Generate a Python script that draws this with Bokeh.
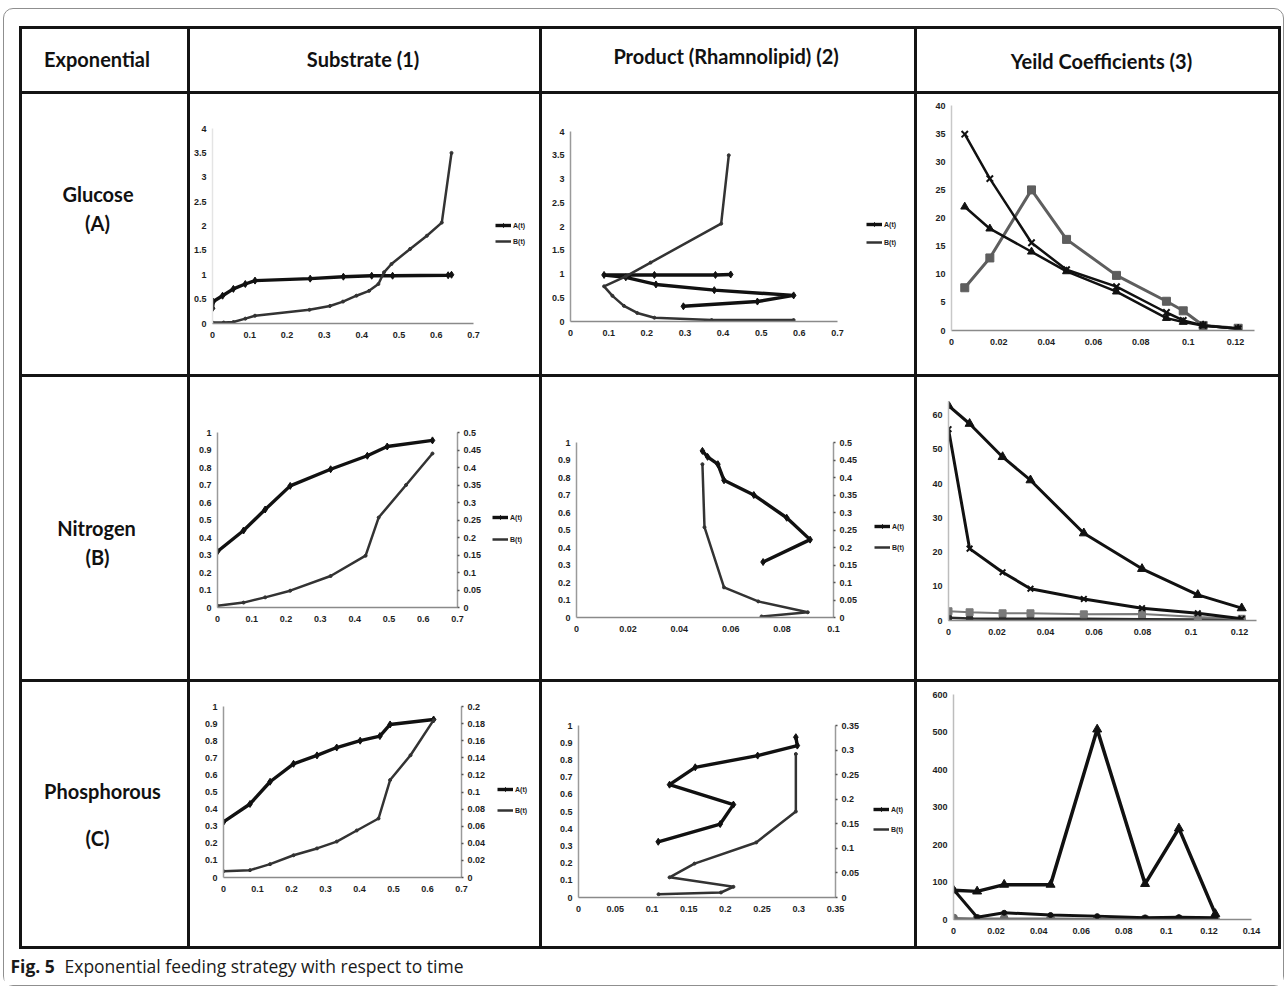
from bokeh.plotting import figure
from bokeh.layouts import row, column
from bokeh.models import (Range1d, LinearAxis, Legend, LegendItem, FixedTicker,
                          Spacer, CustomJSTickFormatter)
from bokeh.embed import file_html
from bokeh.resources import INLINE
from bokeh.core.properties import value

# ---------------- texts ----------------
header_labels = ["Exponential", "Substrate  (1)", "Product (Rhamnolipid)  (2)", "Yeild Coefficients (3)"]
row_names = ["Glucose", "Nitrogen", "Phosphorous"]
row_codes = ["(A)", "(B)", "(C)"]
legend_labels = ["A(t)", "B(t)"]
caption_bold = "Fig. 5"
caption_text = "Exponential feeding strategy with respect to time"

# ---------------- tick values ----------------
t_x07 = [0, 0.1, 0.2, 0.3, 0.4, 0.5, 0.6, 0.7]
t_y4 = [0, 0.5, 1, 1.5, 2, 2.5, 3, 3.5, 4]
t_x012 = [0, 0.02, 0.04, 0.06, 0.08, 0.1, 0.12]
t_y40 = [0, 5, 10, 15, 20, 25, 30, 35, 40]
t_y1 = [0, 0.1, 0.2, 0.3, 0.4, 0.5, 0.6, 0.7, 0.8, 0.9, 1]
t_r05 = [0, 0.05, 0.1, 0.15, 0.2, 0.25, 0.3, 0.35, 0.4, 0.45, 0.5]
t_x01 = [0, 0.02, 0.04, 0.06, 0.08, 0.1]
t_y60 = [0, 10, 20, 30, 40, 50, 60]
t_r02 = [0, 0.02, 0.04, 0.06, 0.08, 0.1, 0.12, 0.14, 0.16, 0.18, 0.2]
t_x035 = [0, 0.05, 0.1, 0.15, 0.2, 0.25, 0.3, 0.35]
t_r035 = [0, 0.05, 0.1, 0.15, 0.2, 0.25, 0.3, 0.35]
t_y600 = [0, 100, 200, 300, 400, 500, 600]
t_x014 = [0, 0.02, 0.04, 0.06, 0.08, 0.1, 0.12, 0.14]

# ---------------- data: Substrate / Glucose (1A) ----------------
sg_A_x = [0.0, 0.002, 0.027, 0.056, 0.088, 0.114, 0.262, 0.351, 0.427, 0.483, 0.632, 0.641]
sg_A_y = [0.31, 0.45, 0.57, 0.71, 0.81, 0.88, 0.92, 0.96, 0.98, 0.98, 0.99, 1.0]
sg_B_x = [0.0, 0.03, 0.056, 0.088, 0.114, 0.26, 0.315, 0.35, 0.386, 0.42, 0.445, 0.46, 0.48, 0.53, 0.575, 0.615, 0.641]
sg_B_y = [0.02, 0.02, 0.03, 0.1, 0.16, 0.28, 0.36, 0.45, 0.57, 0.67, 0.81, 1.05, 1.22, 1.53, 1.8, 2.07, 3.5]

# ---------------- data: Product / Glucose (2A) ----------------
pg_A_x = [0.296, 0.49, 0.585, 0.377, 0.224, 0.145, 0.088, 0.22, 0.38, 0.42]
pg_A_y = [0.32, 0.42, 0.55, 0.66, 0.78, 0.93, 0.98, 0.98, 0.98, 0.99]
pg_B_x = [0.585, 0.37, 0.22, 0.175, 0.14, 0.11, 0.088, 0.145, 0.21, 0.395, 0.415]
pg_B_y = [0.03, 0.03, 0.08, 0.18, 0.33, 0.54, 0.74, 0.95, 1.24, 2.06, 3.5]

# ---------------- data: Yield / Glucose (3A) ----------------
yg_x = [0.0056, 0.0162, 0.0338, 0.0486, 0.0697, 0.0908, 0.0979, 0.1063, 0.1211]
yg_cross = [34.9, 27.0, 15.6, 10.8, 7.8, 3.2, 1.8, 0.9, 0.3]
yg_tri = [22.0, 18.1, 14.0, 10.5, 6.9, 2.2, 1.5, 0.9, 0.3]
yg_sq = [7.6, 12.9, 25.0, 16.2, 9.8, 5.2, 3.5, 0.9, 0.4]

# ---------------- data: Substrate / Nitrogen (1B) ----------------
sn_A_x = [0.0, 0.076, 0.139, 0.212, 0.33, 0.437, 0.495, 0.627]
sn_A_y = [0.32, 0.44, 0.56, 0.695, 0.79, 0.867, 0.92, 0.955]
sn_B_x = [0.0, 0.076, 0.139, 0.212, 0.33, 0.432, 0.47, 0.55, 0.627]
sn_B_y = [0.005, 0.014, 0.029, 0.048, 0.09, 0.148, 0.257, 0.35, 0.44]

# ---------------- data: Product / Nitrogen (2B) ----------------
pn_A_x = [0.049, 0.051, 0.055, 0.0574, 0.069, 0.0818, 0.0909, 0.0726]
pn_A_y = [0.952, 0.918, 0.876, 0.784, 0.70, 0.57, 0.445, 0.317]
pn_B_x = [0.049, 0.0498, 0.0574, 0.0707, 0.09, 0.072]
pn_B_y = [0.438, 0.258, 0.086, 0.046, 0.015, 0.003]

# ---------------- data: Yield / Nitrogen (3B) ----------------
yn_x = [0.0, 0.0087, 0.0223, 0.0338, 0.0558, 0.0798, 0.1028, 0.1209]
yn_tri = [62.8, 57.5, 47.8, 41.0, 25.5, 15.1, 7.5, 3.6]
yn_cross = [55.9, 21.0, 14.1, 9.3, 6.3, 3.6, 2.1, 0.5]
yn_sq = [2.7, 2.4, 2.1, 2.1, 1.8, 1.9, 1.0, 0.5]
yn_circ = [0.8, 0.6, 0.5, 0.5, 0.5, 0.4, 0.3, 0.3]

# ---------------- data: Substrate / Phosphorous (1C) ----------------
sp_A_x = [0.0, 0.078, 0.137, 0.206, 0.275, 0.333, 0.402, 0.46, 0.49, 0.618]
sp_A_y = [0.325, 0.43, 0.56, 0.665, 0.714, 0.76, 0.80, 0.827, 0.895, 0.924]
sp_B_x = [0.0, 0.078, 0.137, 0.206, 0.275, 0.333, 0.392, 0.456, 0.49, 0.55, 0.618]
sp_B_y = [0.0074, 0.0086, 0.0156, 0.026, 0.034, 0.042, 0.055, 0.069, 0.114, 0.143, 0.184]

# ---------------- data: Product / Phosphorous (2C) ----------------
pp_A_x = [0.1086, 0.193, 0.211, 0.124, 0.159, 0.244, 0.298, 0.296]
pp_A_y = [0.324, 0.427, 0.54, 0.656, 0.757, 0.825, 0.883, 0.932]
pp_B_x = [0.109, 0.194, 0.211, 0.124, 0.158, 0.242, 0.296, 0.296]
pp_B_y = [0.0067, 0.0102, 0.0217, 0.041, 0.069, 0.112, 0.175, 0.292]

# ---------------- data: Yield / Phosphorous (3C) ----------------
yp_x = [0.0, 0.0111, 0.0238, 0.0456, 0.0675, 0.09, 0.1059, 0.123]
yp_tri = [78, 75, 93, 93, 507, 95, 243, 15]
yp_line2 = [80, 6, 18, 12, 9, 4.5, 6, 4.5]
yp_circ = [4, 3, 2.5, 2.5, 2, 2, 2, 2]

# ================= helpers =================
LINE = "#141414"
FMT_CODE = "return String(parseFloat(tick.toFixed(4)));"
TICK_FONT = "Liberation Sans"
HEAD_FONT = "Lato"
A_COLOR = "#111111"
B_COLOR = "#333333"
A_W = 3.4
B_W = 2.5


def style_axis(ax, line_color, ticks, tick_out=0, standoff=6):
    ax.ticker = FixedTicker(ticks=ticks)
    ax.formatter = CustomJSTickFormatter(code=FMT_CODE)
    ax.axis_line_color = line_color
    ax.axis_line_width = 1.5
    ax.major_tick_line_color = "#555555" if tick_out else None
    ax.major_tick_line_width = 1.5
    ax.major_tick_out = tick_out
    ax.major_tick_in = 0
    ax.minor_tick_line_color = None
    ax.major_label_text_font = TICK_FONT
    ax.major_label_text_font_size = "9px"
    ax.major_label_text_font_style = "bold"
    ax.major_label_text_color = "#1e1e1e"
    ax.major_label_standoff = standoff


def chart(w, h, left, top, fw, fh, xr, yr, xt, yt, yline="#9a9a9a", right=None):
    p = figure(width=w, height=h, x_range=Range1d(*xr), y_range=Range1d(*yr),
               toolbar_location=None, output_backend="svg",
               min_border_left=left, min_border_top=top,
               min_border_right=w - left - fw, min_border_bottom=h - top - fh)
    p.outline_line_color = None
    p.xgrid.visible = False
    p.ygrid.visible = False
    style_axis(p.xaxis[0], "#8a8a8a", xt, standoff=8)
    style_axis(p.yaxis[0], yline, yt, standoff=6)
    if right is not None:
        rr, rt = right
        p.extra_y_ranges = {"r": Range1d(*rr)}
        ax = LinearAxis(y_range_name="r")
        style_axis(ax, "#9a9a9a", rt, tick_out=2, standoff=4)
        p.add_layout(ax, "right")
    return p


def draw_AB(p, ax_, ay_, bx_, by_, b_right):
    p.line(ax_, ay_, line_width=A_W, color=A_COLOR)
    p.scatter(ax_, ay_, marker="diamond", size=7, color=A_COLOR)
    kw = {"y_range_name": "r"} if b_right else {}
    p.line(bx_, by_, line_width=B_W, color=B_COLOR, **kw)
    p.scatter(bx_, by_, size=3, color=B_COLOR, **kw)


def legend_fig(w, h, dx, dy, sp, ax_, ay_, bx_, by_):
    """Small canvas beside the chart that carries the A(t)/B(t) key.
    Its renderers hold the series but its view window lies away from them,
    so only the key is seen."""
    q = figure(width=w, height=h, x_range=Range1d(10, 11), y_range=Range1d(10, 11),
               toolbar_location=None, output_backend="svg", min_border=0,
               x_axis_type=None, y_axis_type=None)
    q.outline_line_color = None
    la = q.line(ax_, ay_, line_width=A_W, color=A_COLOR)
    ma = q.scatter(ax_, ay_, marker="diamond", size=7, color=A_COLOR)
    lb = q.line(bx_, by_, line_width=B_W, color=B_COLOR)
    lg = Legend(items=[LegendItem(label=legend_labels[0], renderers=[la, ma]),
                       LegendItem(label=legend_labels[1], renderers=[lb])],
                location=(dx, dy), orientation="vertical", spacing=sp,
                padding=0, margin=0, glyph_width=16, glyph_height=10,
                label_height=10, label_width=14, label_standoff=2,
                label_text_font_size="7px", label_text_font_style="bold",
                label_text_font=TICK_FONT, label_text_color="#1e1e1e",
                border_line_color=None, background_fill_alpha=0)
    q.add_layout(lg)
    return q


def text_cell(w, h, xs, ys, texts, size):
    p = figure(width=w, height=h, x_range=Range1d(0, w), y_range=Range1d(h, 0),
               toolbar_location=None, output_backend="svg", min_border=0,
               x_axis_type=None, y_axis_type=None)
    p.outline_line_color = None
    p.text(x=xs, y=ys, text=texts, text_font=value(HEAD_FONT),
           text_font_style="bold", text_font_size=size, text_align="center",
           text_baseline="middle", text_color="#111111")
    return p


def yield_series(p, x, y, marker, color, lw, size):
    p.line(x, y, line_width=lw, color=color)
    if marker == "x":
        p.scatter(x, y, marker="x", size=size, line_color=color, line_width=2)
    else:
        p.scatter(x, y, marker=marker, size=size, color=color)


def solo(p):
    # each canvas in its own box so that a row does not line up their frames
    return column(p)


def with_key(p, key):
    return row(column(p), column(key))


# ================= geometry of the table =================
COLW = [165, 349, 372, 361]
ROWH = [62, 280, 302, 264]
BAR = 3
PAD_L = 15
TABLE_W = PAD_L + BAR * 5 + sum(COLW)
INNER_W = 1279


def vbar(h):
    return Spacer(width=BAR, height=h, styles={"background-color": LINE})


def hbar():
    return row(Spacer(width=PAD_L, height=BAR),
               Spacer(width=TABLE_W - PAD_L, height=BAR, styles={"background-color": LINE}))


def table_row(h, cells):
    kids = [Spacer(width=PAD_L, height=h), vbar(h)]
    for c in cells:
        kids += [c, vbar(h)]
    return row(*kids)


# ================= header =================
FS = "20px"
head = [solo(text_cell(COLW[0], ROWH[0], [74.5], [29], [header_labels[0]], FS)),
        solo(text_cell(COLW[1], ROWH[0], [175], [29], [header_labels[1]], FS)),
        solo(text_cell(COLW[2], ROWH[0], [186], [26], [header_labels[2]], FS)),
        solo(text_cell(COLW[3], ROWH[0], [184], [31], [header_labels[3]], FS))]

lab1 = solo(text_cell(COLW[0], ROWH[1], [75.5, 75], [99, 128], [row_names[0], row_codes[0]], FS))
lab2 = solo(text_cell(COLW[0], ROWH[2], [74, 75], [150, 179], [row_names[1], row_codes[1]], FS))
lab3 = solo(text_cell(COLW[0], ROWH[3], [80, 75], [108, 155], [row_names[2], row_codes[2]], FS))

# ================= row A: glucose =================
p1a = chart(293, ROWH[1], 22, 34, 261, 195, (0, 0.7), (0, 4), t_x07, t_y4, yline="#e4e4e4")
draw_AB(p1a, sg_A_x, sg_A_y, sg_B_x, sg_B_y, False)
c1a = with_key(p1a, legend_fig(COLW[1] - 293, ROWH[1], 12, 128, 6, sg_A_x, sg_A_y, sg_B_x, sg_B_y))

p2a = chart(305, ROWH[1], 28, 37, 267, 190, (0, 0.7), (0, 4), t_x07, t_y4)
draw_AB(p2a, pg_A_x, pg_A_y, pg_B_x, pg_B_y, False)
c2a = with_key(p2a, legend_fig(COLW[2] - 305, ROWH[1], 19, 127, 8, pg_A_x, pg_A_y, pg_B_x, pg_B_y))

p3a = chart(COLW[3], ROWH[1], 34, 11, 303, 225, (0, 0.128), (0, 40), t_x012, t_y40, yline="#c8c8c8")
yield_series(p3a, yg_x, yg_sq, "square", "#5e5e5e", 3, 8)
yield_series(p3a, yg_x, yg_tri, "triangle", "#111111", 2.5, 8)
yield_series(p3a, yg_x, yg_cross, "x", "#111111", 2.5, 9)

# ================= row B: nitrogen =================
p1b = chart(297, ROWH[2], 27, 55, 240, 175, (0, 0.7), (0, 1), t_x07, t_y1,
            right=((0, 0.5), t_r05))
draw_AB(p1b, sn_A_x, sn_A_y, sn_B_x, sn_B_y, True)
c1b = with_key(p1b, legend_fig(COLW[1] - 297, ROWH[2], 5, 135, 12, sn_A_x, sn_A_y, sn_B_x, sn_B_y))

p2b = chart(321, ROWH[2], 34, 65, 257, 175, (0, 0.1), (0, 1), t_x01, t_y1,
            right=((0, 0.5), t_r05))
draw_AB(p2b, pn_A_x, pn_A_y, pn_B_x, pn_B_y, True)
c2b = with_key(p2b, legend_fig(COLW[2] - 321, ROWH[2], 11, 127, 11, pn_A_x, pn_A_y, pn_B_x, pn_B_y))

p3b = chart(COLW[3], ROWH[2], 31, 24, 308, 219, (0, 0.127), (0, 64), t_x012, t_y60, yline="#bdbdbd")
yield_series(p3b, yn_x, yn_circ, "circle", "#2a2a2a", 2.5, 7)
yield_series(p3b, yn_x, yn_sq, "square", "#7a7a7a", 2, 7)
yield_series(p3b, yn_x, yn_cross, "x", "#111111", 3, 8)
yield_series(p3b, yn_x, yn_tri, "triangle", "#111111", 3, 9)

# ================= row C: phosphorous =================
p1c = chart(301, ROWH[3], 33, 24, 238, 171, (0, 0.7), (0, 1), t_x07, t_y1,
            right=((0, 0.2), t_r02))
draw_AB(p1c, sp_A_x, sp_A_y, sp_B_x, sp_B_y, True)
c1c = with_key(p1c, legend_fig(COLW[1] - 301, ROWH[3], 6, 131, 11, sp_A_x, sp_A_y, sp_B_x, sp_B_y))

p2c = chart(323, ROWH[3], 36, 43, 257, 172, (0, 0.35), (0, 1), t_x035, t_y1,
            right=((0, 0.35), t_r035))
draw_AB(p2c, pp_A_x, pp_A_y, pp_B_x, pp_B_y, True)
c2c = with_key(p2c, legend_fig(COLW[2] - 323, ROWH[3], 8, 112, 10, pp_A_x, pp_A_y, pp_B_x, pp_B_y))

p3c = chart(COLW[3], ROWH[3], 36, 12, 298, 225, (0, 0.14), (0, 600), t_x014, t_y600, yline="#bdbdbd")
yield_series(p3c, yp_x, yp_circ, "circle", "#6a6a6a", 2, 8)
yield_series(p3c, yp_x, yp_line2, "circle", "#111111", 3, 5)
yield_series(p3c, yp_x, yp_tri, "triangle", "#111111", 3.5, 9)

# ================= caption =================
CAP_H = 36
cap = figure(width=INNER_W, height=CAP_H, x_range=Range1d(0, INNER_W), y_range=Range1d(CAP_H, 0),
             toolbar_location=None, output_backend="svg", min_border=0,
             x_axis_type=None, y_axis_type=None)
cap.outline_line_color = None
cap.text(x=[6], y=[16], text=[caption_bold], text_font=value("Open Sans"),
         text_font_style="bold", text_font_size="17.5px", text_align="left",
         text_baseline="middle", text_color="#1a1a1a")
cap.text(x=[60], y=[16], text=[caption_text], text_font=value("Open Sans"),
         text_font_size="17.5px", text_align="left",
         text_baseline="middle", text_color="#1a1a1a")

# ================= assemble =================
boxed = column(
    Spacer(width=INNER_W, height=17),
    hbar(),
    table_row(ROWH[0], head),
    hbar(),
    table_row(ROWH[1], [lab1, c1a, c2a, solo(p3a)]),
    hbar(),
    table_row(ROWH[2], [lab2, c1b, c2b, solo(p3b)]),
    hbar(),
    table_row(ROWH[3], [lab3, c1c, c2c, solo(p3c)]),
    hbar(),
    solo(cap),
    styles={"border": "1px solid #8f8f8f", "border-radius": "10px"},
)

page = column(Spacer(width=1284, height=8), row(Spacer(width=3, height=978), boxed))

open("out.html", "w").write(file_html(page, INLINE))
